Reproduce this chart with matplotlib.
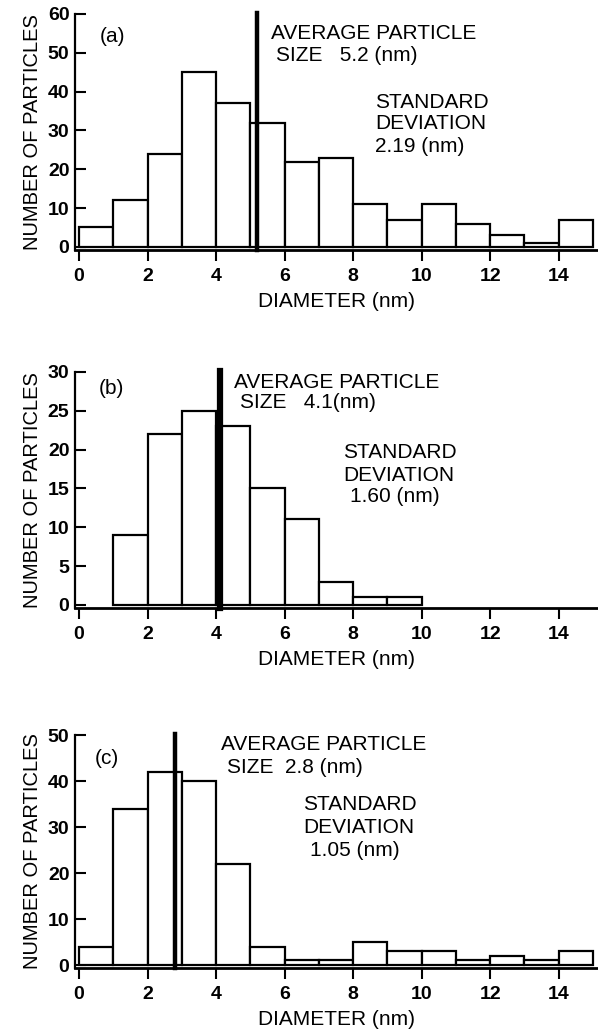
import matplotlib
matplotlib.use("Agg")
import matplotlib.pyplot as plt
import numpy as np

plt.rcParams['font.family'] = ['Liberation Sans', 'DejaVu Sans']

# particle size histograms, 1 nm bins
edges_a = np.arange(0, 16)
counts_a = [5, 12, 24, 45, 37, 32, 22, 23, 11, 7, 11, 6, 3, 1, 7]
edges_b = np.arange(1, 11)
counts_b = [9, 22, 25, 23, 15, 11, 3, 1, 1]
edges_c = np.arange(0, 16)
counts_c = [4, 34, 42, 40, 22, 4, 1, 1, 5, 3, 3, 1, 2, 1, 3]

means = [5.2, 4.1, 2.8]
panel_tags = ["(a)", "(b)", "(c)"]
ytops = [60, 30, 50]
ysteps = [10, 5, 10]
xticks = [0, 2, 4, 6, 8, 10, 12, 14]

avg_lines = [["AVERAGE PARTICLE", "SIZE   5.2 (nm)"],
             ["AVERAGE PARTICLE", "SIZE   4.1(nm)"],
             ["AVERAGE PARTICLE", "SIZE  2.8 (nm)"]]
sd_lines = [["STANDARD", "DEVIATION", "2.19 (nm)"],
            ["STANDARD", "DEVIATION", "1.60 (nm)"],
            ["STANDARD", "DEVIATION", "1.05 (nm)"]]

# text anchor positions in data coords (x, y of each line)
tag_pos = [(0.61, 54.3), (0.58, 27.9), (0.47, 45.0)]
avg_pos = [[(5.61, 55.1), (5.76, 49.4)],
           [(4.53, 28.7), (4.71, 26.1)],
           [(4.15, 48.0), (4.33, 43.0)]]
sd_pos = [[(8.65, 37.3), (8.65, 31.9), (8.65, 25.8)],
          [(7.72, 19.6), (7.72, 16.7), (7.92, 13.9)],
          [(6.55, 34.8), (6.55, 30.0), (6.75, 25.0)]]

W, H = 598, 1030
fig = plt.figure(figsize=(W / 100, H / 100), dpi=100)

# axes boxes in pixels: left, top(of y max), bottom(spine)
boxes = [(75, 14, 250), (75, 372, 608), (75, 735, 968)]
ybots = [-0.8, -0.4, -0.65]
mean_lw = [3.2, 4.5, 3.2]

data = [(edges_a, counts_a), (edges_b, counts_b), (edges_c, counts_c)]

for i in range(3):
    left, top, bot = boxes[i]
    ax = fig.add_axes([left / W, 1 - bot / H, (W - left) / W, (bot - top) / H])
    edges, counts = data[i]
    ax.bar(edges[:-1], counts, width=1, align='edge', facecolor='white',
           edgecolor='black', linewidth=1.6, zorder=2)
    ax.axvline(means[i], ymin=0, ymax=1.005, color='black', linewidth=mean_lw[i],
               zorder=3, clip_on=False)
    ax.set_xlim(-0.12, 15.15)
    ax.set_ylim(ybots[i], ytops[i])
    ax.spines['top'].set_visible(False)
    ax.spines['right'].set_visible(False)
    ax.spines['left'].set_linewidth(1.6)
    ax.spines['bottom'].set_linewidth(2.0)
    ax.set_xticks(xticks)
    ax.set_yticks(np.arange(0, ytops[i] + 1, ysteps[i]))
    ax.tick_params(axis='y', direction='in', length=8, width=1.5, pad=4,
                   labelsize=14)
    ax.tick_params(axis='x', direction='out', length=8, width=1.5, pad=5,
                   labelsize=14)
    for lab in ax.get_xticklabels() + ax.get_yticklabels():
        lab.set_fontweight('bold')
    ax.set_xlabel("DIAMETER (nm)", fontsize=15, labelpad=5)
    ax.set_ylabel("NUMBER OF PARTICLES", fontsize=14.5, labelpad=4)

    ax.text(tag_pos[i][0], tag_pos[i][1], panel_tags[i], fontsize=15,
            va='center', ha='left')
    for txt, (x, y) in zip(avg_lines[i], avg_pos[i]):
        ax.text(x, y, txt, fontsize=15, va='center', ha='left')
    for txt, (x, y) in zip(sd_lines[i], sd_pos[i]):
        ax.text(x, y, txt, fontsize=15, va='center', ha='left')

fig.savefig("out.png", dpi=100)
